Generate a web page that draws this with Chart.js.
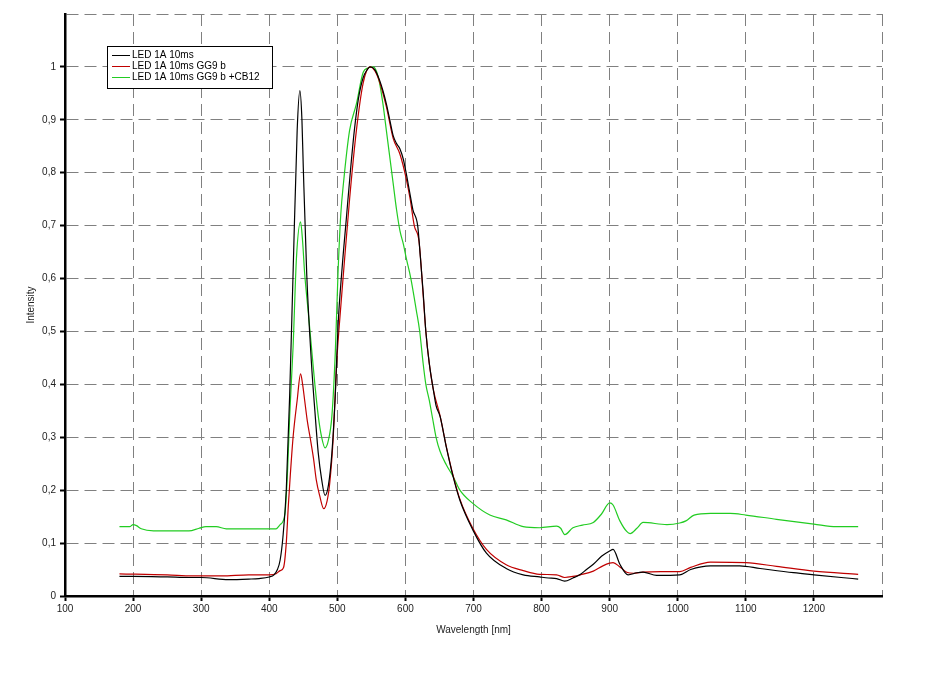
<!DOCTYPE html>
<html>
<head>
<meta charset="utf-8">
<script src="https://cdn.jsdelivr.net/npm/chart.js@4/dist/chart.umd.min.js"></script>
<style>
html,body{margin:0;padding:0;background:#fff;}
#wrap{width:925px;height:680px;}
</style>
</head>
<body>
<div id="wrap"><canvas id="c" width="925" height="680"></canvas></div>
<script>
// ---- data ----
const seriesLabels = ["LED 1A 10ms", "LED 1A 10ms GG9 b", "LED 1A 10ms GG9 b +CB12"];

const blackNm  = [180,200,250,282,300,340,370,385,400,407,412,416,420,425,430,435,441,445,448,450,455,462,467,472,477,482,487,492,497,501,507,513,519,525,531,538,544,548,555,562,567,572,577,582,587,592,597,601,606,611,618,622,626,630,635,641,645,651,660,670,680,699,719,748,773,797,810,822,834,846,856,866,876,888,900,905,915,927,940,949,969,1003,1019,1048,1091,1121,1170,1200,1240,1265];
const blackVal = [0.037,0.037,0.036,0.035,0.035,0.031,0.032,0.033,0.036,0.040,0.050,0.068,0.110,0.200,0.380,0.610,0.880,0.955,0.900,0.810,0.610,0.440,0.350,0.270,0.220,0.190,0.210,0.270,0.380,0.510,0.620,0.710,0.800,0.880,0.940,0.980,0.995,1.000,0.995,0.975,0.955,0.930,0.900,0.870,0.855,0.845,0.825,0.800,0.765,0.730,0.700,0.640,0.575,0.500,0.440,0.390,0.360,0.339,0.282,0.226,0.181,0.125,0.081,0.052,0.040,0.036,0.034,0.033,0.028,0.034,0.040,0.050,0.060,0.075,0.085,0.088,0.060,0.040,0.044,0.045,0.039,0.040,0.050,0.057,0.057,0.052,0.044,0.040,0.035,0.032];

const redNm  = [180,250,287,330,370,400,410,416,421,425,428,431,435,441,446,449,452,456,460,465,469,474,480,485,489,494,499,504,509,518,528,538,548,555,562,572,582,592,601,607,613,620,626,630,635,641,651,660,670,680,699,719,748,773,797,822,834,846,857,876,890,900,905,915,925,935,949,975,1003,1019,1048,1100,1145,1200,1265];
const redVal = [0.042,0.040,0.038,0.038,0.040,0.040,0.042,0.048,0.054,0.100,0.170,0.230,0.300,0.370,0.420,0.400,0.370,0.330,0.300,0.260,0.220,0.190,0.165,0.180,0.215,0.300,0.440,0.530,0.610,0.750,0.880,0.970,1.000,0.993,0.972,0.925,0.865,0.835,0.790,0.750,0.700,0.670,0.570,0.500,0.440,0.390,0.340,0.283,0.228,0.183,0.128,0.088,0.059,0.048,0.041,0.040,0.035,0.037,0.040,0.047,0.057,0.062,0.063,0.055,0.045,0.043,0.045,0.046,0.046,0.054,0.064,0.063,0.056,0.047,0.041];

const greenNm  = [180,195,200,205,212,230,282,297,307,322,337,410,416,423,427,430,435,440,446,449,452,457,462,467,472,477,482,487,492,497,501,505,509,518,528,538,545,553,558,562,567,572,577,582,587,592,597,601,608,616,621,626,630,635,640,645,651,660,670,680,699,724,748,773,797,822,828,834,846,860,876,888,900,905,915,925,930,940,949,984,1003,1012,1024,1048,1077,1100,1145,1200,1233,1265];
const greenVal = [0.131,0.131,0.135,0.133,0.127,0.123,0.123,0.128,0.131,0.131,0.127,0.127,0.135,0.155,0.240,0.340,0.470,0.640,0.707,0.670,0.610,0.540,0.470,0.400,0.340,0.300,0.280,0.295,0.340,0.460,0.610,0.720,0.780,0.880,0.930,0.990,0.998,1.000,0.990,0.970,0.930,0.880,0.830,0.780,0.730,0.690,0.665,0.640,0.600,0.540,0.500,0.440,0.400,0.370,0.335,0.300,0.273,0.248,0.226,0.200,0.175,0.153,0.144,0.131,0.129,0.132,0.128,0.116,0.129,0.134,0.139,0.155,0.176,0.172,0.142,0.122,0.118,0.128,0.139,0.135,0.138,0.142,0.153,0.156,0.156,0.153,0.145,0.136,0.131,0.131];

const xTickValues = [100,200,300,400,500,600,700,800,900,1000,1100,1200];
const yTickValues = [0,0.1,0.2,0.3,0.4,0.5,0.6,0.7,0.8,0.9,1];
// ---------------------------------------

function pts(xs, ys){ return xs.map((x,i)=>({x:x, y:ys[i]})); }
const colors = ["#000000", "#c00000", "#22cc22"];

const legendPlugin = {
  id: 'boxLegend',
  afterDraw(chart){
    const ctx = chart.ctx;
    const x0 = 107, y0 = 46, w = 165, h = 42;
    ctx.save();
    ctx.fillStyle = '#fff';
    ctx.fillRect(x0, y0, w, h);
    ctx.strokeStyle = '#000';
    ctx.lineWidth = 1;
    ctx.strokeRect(x0+0.5, y0+0.5, w, h);
    ctx.font = '10px "Liberation Sans", Arial, sans-serif';
    ctx.textBaseline = 'middle';
    chart.data.datasets.forEach((ds, i) => {
      const yy = y0 + 9.5 + i*11;
      ctx.strokeStyle = ds.borderColor;
      ctx.lineWidth = 1;
      ctx.beginPath();
      ctx.moveTo(x0+5, yy); ctx.lineTo(x0+23, yy);
      ctx.stroke();
      ctx.fillStyle = '#000';
      ctx.fillText(ds.label, x0+25, yy);
    });
    ctx.restore();
  }
};

new Chart(document.getElementById('c'), {
  type: 'line',
  data: {
    datasets: [
      {label: seriesLabels[0], data: pts(blackNm, blackVal), borderColor: colors[0]},
      {label: seriesLabels[1], data: pts(redNm, redVal), borderColor: colors[1]},
      {label: seriesLabels[2], data: pts(greenNm, greenVal), borderColor: colors[2]}
    ].map(d => Object.assign(d, {borderWidth: 1.2, pointRadius: 0, fill: false, tension: 0.35, cubicInterpolationMode: 'monotone'}))
  },
  options: {
    responsive: false,
    animation: false,
    layout: {padding: {left: 0, top: 14, right: 43, bottom: 0}},
    plugins: {legend: {display: false}, tooltip: {enabled: false}},
    scales: {
      x: {
        type: 'linear', min: 100, max: 1300,
        afterBuildTicks: s => { s.ticks = xTickValues.concat([1300]).map(v => ({value: v})); },
        afterFit: s => { s.height = 84; },
        ticks: {
          padding: 2, color: '#222', font: {family: '"Liberation Sans", Arial, sans-serif', size: 10},
          callback: v => (v >= 1300 ? '' : String(v))
        },
        grid: {color: '#808080', lineWidth: 1, tickLength: 5, tickWidth: 2,
               tickColor: c => (c.tick && c.tick.value >= 1300 ? 'rgba(0,0,0,0)' : '#000')},
        border: {display: true, color: '#000', width: 2.5, dash: [12, 6]},
        title: {display: true, text: 'Wavelength [nm]', color: '#222',
                font: {family: '"Liberation Sans", Arial, sans-serif', size: 10}, padding: {top: 0, bottom: 44}}
      },
      y: {
        type: 'linear', min: 0, max: 1.1,
        afterBuildTicks: s => { s.ticks = yTickValues.concat([1.1]).map(v => ({value: v})); },
        afterFit: s => { s.width = 65; },
        ticks: {
          padding: 4, color: '#222', font: {family: '"Liberation Sans", Arial, sans-serif', size: 10},
          callback: v => (v > 1.05 ? '' : (Math.round(v*10)/10).toString().replace('.', ','))
        },
        grid: {color: '#808080', lineWidth: 1, tickLength: 5, tickWidth: 2,
               tickColor: c => (c.tick && c.tick.value > 1.05 ? 'rgba(0,0,0,0)' : '#000')},
        border: {display: true, color: '#000', width: 2.5, dash: [12, 6]},
        title: {display: true, text: 'Intensity', color: '#222',
                font: {family: '"Liberation Sans", Arial, sans-serif', size: 10}, padding: {top: 25, bottom: 0}}
      }
    }
  },
  plugins: [legendPlugin]
});
</script>
</body>
</html>
